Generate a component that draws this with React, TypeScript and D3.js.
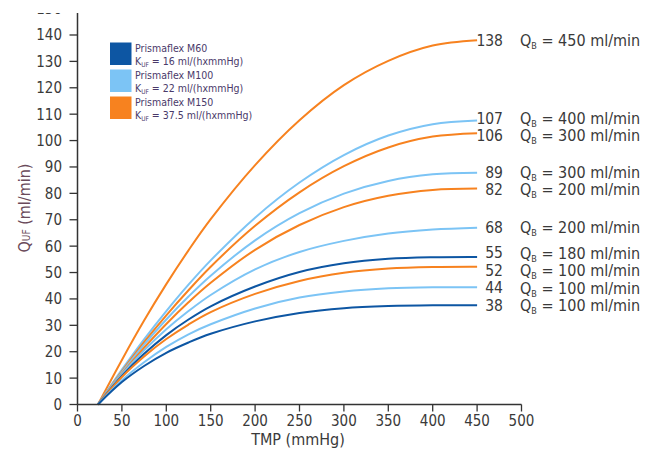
import React from "react";
import * as d3 from "d3";

// ---- data ----
const tmpPoints = [23, 50, 75, 100, 125, 150, 200, 250, 300, 350, 400, 450];

const o138 = [0, 16.9, 31.8, 45.6, 58.4, 70.2, 90.7, 107.7, 121.0, 130.2, 136.0, 138];
const lb107 = [0, 13.2, 24.7, 35.4, 45.4, 54.6, 70.8, 84.1, 94.5, 101.9, 106.2, 107.6];
const o106 = [0, 12.6, 23.6, 33.8, 43.3, 52.2, 67.7, 80.4, 90.3, 97.4, 101.5, 102.8];
const lb89 = [0, 12.2, 22.7, 32.2, 40.9, 48.8, 62.2, 72.5, 79.9, 84.7, 87.2, 87.8];
const o82 = [0, 11.6, 21.5, 30.5, 38.7, 46.1, 58.6, 68.0, 74.8, 79.1, 81.3, 81.8];
const lb68 = [0, 11.4, 20.5, 28.5, 35.4, 41.5, 51.2, 57.8, 62.0, 64.8, 66.3, 67];
const db55 = [0, 10.8, 19.2, 26.3, 32.2, 37.2, 44.7, 50.2, 53.5, 55.2, 55.8, 55.9];
const o52 = [0, 10.4, 18.2, 24.8, 30.3, 35.0, 41.9, 46.8, 49.9, 51.5, 52.1, 52.2];
const lb44 = [0, 9.2, 16.0, 21.8, 26.6, 30.4, 36.4, 40.5, 42.8, 44.0, 44.4, 44.4];
const db38 = [0, 8.5, 14.6, 19.6, 23.5, 26.8, 31.5, 34.7, 36.5, 37.3, 37.6, 37.6];

const seriesValues = [o138, lb107, o106, lb89, o82, lb68, db55, o52, lb44, db38];
const seriesModel = [2, 1, 2, 1, 2, 1, 0, 2, 1, 0];
const endLabels = [138, 107, 106, 89, 82, 68, 55, 52, 44, 38];
const qbLabels = [450, 400, 300, 300, 200, 200, 180, 100, 100, 100];

const modelNames = ["Prismaflex M60", "Prismaflex M100", "Prismaflex M150"];
const modelKuf = ["16", "22", "37.5"];
const modelColors = ["#0d56a3", "#7cc4f5", "#f7821f"];

const xTicks = [0, 50, 100, 150, 200, 250, 300, 350, 400, 450, 500];
const yTicks = [0, 10, 20, 30, 40, 50, 60, 70, 80, 90, 100, 110, 120, 130, 140, 150];

const FONT = "'DejaVu Sans Condensed', 'DejaVu Sans', sans-serif";
const TXT = "#3a3a3a";

export default function App() {
  const W = 646, H = 449;
  const x = d3.scaleLinear().domain([0, 500]).range([77.5, 521.5]);
  const y = d3.scaleLinear().domain([0, 150]).range([404.5, 8.6]);

  const line = d3
    .line<[number, number]>()
    .x((d) => x(d[0]))
    .y((d) => y(d[1]))
    .curve(d3.curveCatmullRom.alpha(0.5));

  // label positions with simple dodge
  const ends = seriesValues.map((s, i) => ({ i, y: y(s[s.length - 1]) }));
  const sorted = [...ends].sort((a, b) => a.y - b.y);
  const gap = 17.5;
  for (let it = 0; it < 50; it++) {
    for (let k = 1; k < sorted.length; k++) {
      const d = sorted[k].y - sorted[k - 1].y;
      if (d < gap) {
        const push = (gap - d) / 2;
        sorted[k - 1].y -= push;
        sorted[k].y += push;
      }
    }
  }
  const labelY: number[] = [];
  sorted.forEach((e) => (labelY[e.i] = e.y));

  return (
    <svg
      width={W}
      height={H}
      style={{ position: "absolute", left: 0, top: 0, background: "#fff" }}
      fontFamily={FONT}
    >
      <defs>
        <clipPath id="topcut">
          <rect x={0} y={13} width={W} height={H} />
        </clipPath>
      </defs>

      {/* curves */}
      {seriesValues.map((s, i) => (
        <path
          key={i}
          d={line(tmpPoints.map((t, j) => [t, s[j]] as [number, number])) || ""}
          fill="none"
          stroke={modelColors[seriesModel[i]]}
          strokeWidth={2}
        />
      ))}

      {/* y axis */}
      <g clipPath="url(#topcut)">
        <line x1={x(0)} x2={x(0)} y1={y(0)} y2={y(150)} stroke="#333" strokeWidth={1.5} />
        {yTicks.map((t) => (
          <g key={t}>
            <line x1={x(0) - 8} x2={x(0)} y1={y(t)} y2={y(t)} stroke="#333" strokeWidth={1.3} />
            <text x={62} y={y(t)} dy="0.36em" textAnchor="end" fontSize={15} fill={TXT} fontStretch="condensed">
              {t}
            </text>
          </g>
        ))}
      </g>

      {/* x axis */}
      <line x1={x(0)} x2={x(500)} y1={y(0)} y2={y(0)} stroke="#333" strokeWidth={1.5} />
      {xTicks.map((t) => (
        <g key={t}>
          <line x1={x(t)} x2={x(t)} y1={y(0)} y2={y(0) + 7} stroke="#333" strokeWidth={1.3} />
          <text x={x(t)} y={421} dy="0.36em" textAnchor="middle" fontSize={15} fill={TXT} fontStretch="condensed">
            {t}
          </text>
        </g>
      ))}

      {/* axis titles */}
      <text x={298} y={439} dy="0.36em" textAnchor="middle" fontSize={16} fill={TXT} fontStretch="condensed">
        TMP (mmHg)
      </text>
      <text
        transform={`translate(24,208) rotate(-90)`}
        textAnchor="middle"
        dy="0.36em"
        fontSize={16}
        fill="#6a4a5a"
        fontStretch="condensed"
      >
        Q<tspan fontSize={10}>UF</tspan> (ml/min)
      </text>

      {/* end labels */}
      {seriesValues.map((s, i) => (
        <g key={"l" + i}>
          <text x={503} y={labelY[i]} dy="0.36em" textAnchor="end" fontSize={15.5} fill={TXT} fontStretch="condensed">
            {endLabels[i]}
          </text>
          <text x={520} y={labelY[i]} dy="0.36em" fontSize={16} fill={TXT} fontStretch="condensed">
            Q
            <tspan fontSize={9} dy={3}>B</tspan>
            <tspan dy={-3}>{` = ${qbLabels[i]} ml/min`}</tspan>
          </text>
        </g>
      ))}

      {/* legend */}
      {modelNames.map((n, i) => {
        const top = 42.5 + i * 27;
        return (
          <g key={"lg" + i}>
            <rect x={110} y={top} width={21.5} height={22.5} fill={modelColors[i]} />
            <text x={135} y={top + 6} dy="0.36em" fontSize={10.5} fill="#4a3a6a" fontStretch="condensed">
              {n}
            </text>
            <text x={135} y={top + 19} dy="0.36em" fontSize={10.5} fill="#4a3a6a" fontStretch="condensed">
              K<tspan fontSize={6.5} dy={2}>UF</tspan>
              <tspan dy={-2}>{` = ${modelKuf[i]} ml/(hxmmHg)`}</tspan>
            </text>
          </g>
        );
      })}
    </svg>
  );
}
